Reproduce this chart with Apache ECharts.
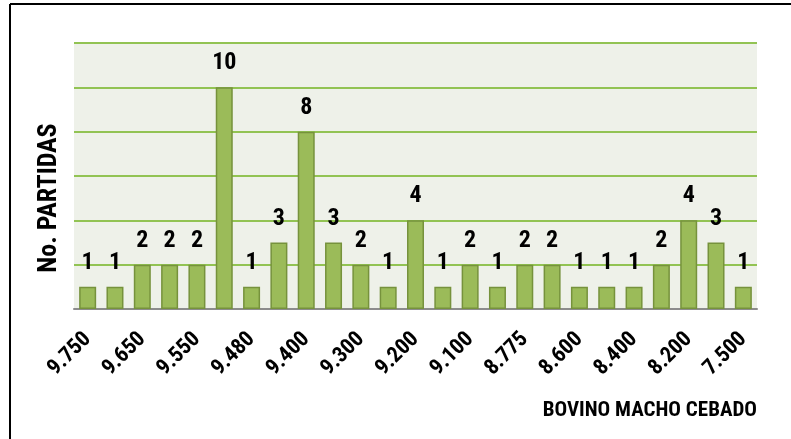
<!DOCTYPE html>
<html>
<head>
<meta charset="utf-8">
<script src="https://cdn.jsdelivr.net/npm/echarts@6/dist/echarts.min.js"></script>
<style>
  html, body { margin: 0; padding: 0; background: #fff; }
  #chart { width: 791px; height: 439px; }
</style>
</head>
<body>
<div id="chart"></div>
<script>
// price categories (every other one is labelled on the axis)
const categories = [
  '9.750', '9.700', '9.650', '9.600', '9.550', '9.500', '9.480', '9.450', '9.400',
  '9.350', '9.300', '9.250', '9.200', '9.150', '9.100', '9.000', '8.775', '8.700',
  '8.600', '8.500', '8.400', '8.300', '8.200', '8.000', '7.500'
];
const partidas = [1, 1, 2, 2, 2, 10, 1, 3, 8, 3, 2, 1, 4, 1, 2, 1, 2, 2, 1, 1, 1, 2, 4, 3, 1];

const font = '"Roboto Condensed", "DejaVu Sans Condensed", sans-serif';

const chart = echarts.init(document.getElementById('chart'));

chart.setOption({
  animation: false,
  grid: { left: 74, right: 34, top: 43, bottom: 130, show: true, backgroundColor: '#EEF1E9', borderWidth: 0 },
  graphic: [
    { type: 'line', shape: { x1: 10, y1: 4, x2: 791, y2: 4 }, style: { stroke: '#000', lineWidth: 2 } },
    { type: 'line', shape: { x1: 10, y1: 4, x2: 10, y2: 439 }, style: { stroke: '#000', lineWidth: 2 } }
  ],
  xAxis: {
    type: 'category',
    data: categories,
    name: 'BOVINO MACHO CEBADO',
    nameLocation: 'end',
    nameGap: 0,
    nameTextStyle: {
      fontFamily: font, fontWeight: 'bold', fontSize: 21, color: '#000',
      align: 'right', verticalAlign: 'top', padding: [91, 0, 0, 0]
    },
    axisLine: { lineStyle: { color: '#8c8c8c', width: 2 } },
    axisTick: { show: false },
    axisLabel: {
      interval: 1, rotate: 45, margin: 27,
      fontFamily: font, fontWeight: 'bold', fontSize: 22, color: '#000'
    }
  },
  yAxis: {
    type: 'value',
    min: 0, max: 12, interval: 2,
    name: 'No. PARTIDAS',
    nameLocation: 'middle',
    nameGap: 12,
    nameTextStyle: {
      fontFamily: font, fontWeight: 'bold', fontSize: 26, color: '#000',
      padding: [0, 44, 0, 0]
    },
    axisLabel: { show: false },
    axisLine: { show: false },
    axisTick: { show: false },
    splitLine: { lineStyle: { color: '#92C353', width: 2 } }
  },
  series: [{
    type: 'bar',
    data: partidas,
    barWidth: 17,
    itemStyle: { color: '#9BBB59', borderColor: '#76923C', borderWidth: 1.5 },
    label: {
      show: true, position: 'top', distance: 12,
      fontFamily: font, fontWeight: 'bold', fontSize: 24, color: '#000'
    }
  }]
});
</script>
</body>
</html>
